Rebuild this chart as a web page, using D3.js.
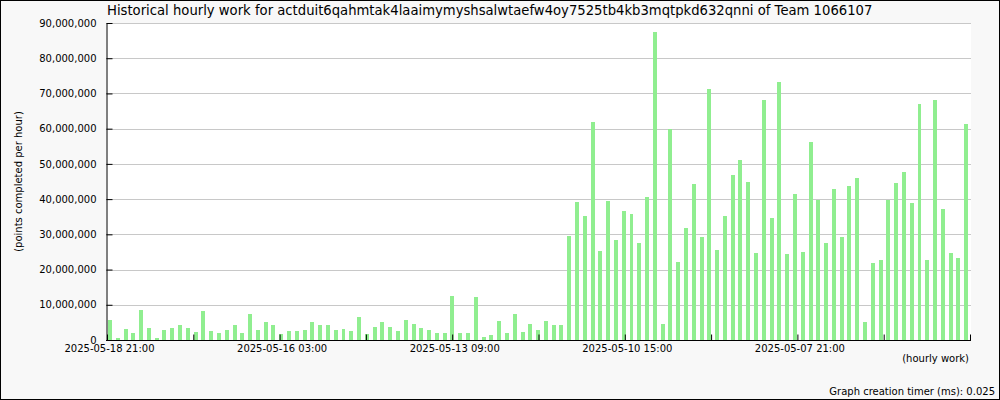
<!DOCTYPE html>
<html>
<head>
<meta charset="utf-8">
<script src="https://cdn.jsdelivr.net/npm/d3@7"></script>
<style>
  html, body { margin: 0; padding: 0; background: #f8f8f8; }
  svg { display: block; }
  text { font-family: "DejaVu Sans", sans-serif; fill: #000; }
</style>
</head>
<body>
<svg id="chart" width="1000" height="400"></svg>
<script>
// ---- data ----
const titleText = "Historical hourly work for actduit6qahmtak4laaimymyshsalwtaefw4oy7525tb4kb3mqtpkd632qnni of Team 1066107";
const yAxisTitle = "(points completed per hour)";
const xAxisTitle = "(hourly work)";
const footerText = "Graph creation timer (ms): 0.025";

// millions of points per bar, left (newest) to right (oldest)
const valuesMillions = [
  5.74, 0.57, 3.16, 2.0, 8.6, 3.44, 0.57, 2.87, 3.44, 4.3,
  3.44, 2.3, 8.3, 2.58, 2.0, 2.87, 4.3, 2.0, 7.46, 2.87,
  5.17, 4.3, 1.72, 2.58, 2.58, 2.87, 5.17, 4.3, 4.3, 2.87,
  3.16, 2.58, 6.6, 1.72, 3.73, 5.17, 3.73, 2.58, 5.74, 4.6,
  3.44, 2.87, 2.0, 2.0, 12.6, 2.0, 2.0, 12.3, 0.86, 1.44,
  5.45, 2.0, 7.46, 2.3, 4.6, 2.87, 5.45, 4.3, 4.3, 29.4,
  39.2, 35.2, 61.9, 25.3, 39.5, 28.4, 36.6, 35.8, 27.5, 40.6,
  87.4, 4.5, 59.8, 22.1, 31.8, 44.3, 29.2, 71.3, 25.6, 35.2,
  46.8, 51.1, 44.9, 24.7, 68.1, 34.6, 73.2, 24.4, 41.4, 25.0,
  56.2, 39.8, 27.5, 42.9, 29.2, 43.7, 46.0, 5.1, 21.9, 22.7,
  39.8, 44.6, 47.7, 38.9, 67.0, 22.7, 68.1, 37.2, 24.7, 23.3,
  61.3
];
const yTickValues = [0, 10e6, 20e6, 30e6, 40e6, 50e6, 60e6, 70e6, 80e6, 90e6];
const xTickLabels = ["2025-05-18 21:00", "2025-05-16 03:00", "2025-05-13 09:00", "2025-05-10 15:00", "2025-05-07 21:00"];
const axisStartLabel = "2025-05-18 21:00";
const axisSpanHours = 330;
const tickEveryHours = 33;

// ---- layout ----
const W = 1000, H = 400;
const plot = { left: 106, right: 971, top: 23, bottom: 340 };

const svg = d3.select("#chart");
svg.append("rect").attr("x", 0).attr("y", 0).attr("width", W).attr("height", H).attr("fill", "#f8f8f8");
svg.append("rect").attr("x", plot.left).attr("y", plot.top)
  .attr("width", plot.right - plot.left).attr("height", plot.bottom - plot.top).attr("fill", "#ffffff");

const values = valuesMillions.map(v => v * 1e6);

const y = d3.scaleLinear().domain([0, 90e6]).range([plot.bottom, plot.top]);
const xi = d3.scaleLinear().domain([0, values.length]).range([plot.left + 1, plot.right]);

const parse = d3.utcParse("%Y-%m-%d %H:%M");
const t0 = parse(axisStartLabel);
const t1 = new Date(t0.getTime() - axisSpanHours * 3600e3);
const xt = d3.scaleUtc().domain([t0, t1]).range([plot.left + 1, plot.right - 1]);

// gridlines
svg.append("g").selectAll("line").data(yTickValues.filter(v => v > 0)).join("line")
  .attr("x1", plot.left).attr("x2", plot.right)
  .attr("y1", d => Math.round(y(d)) + 0.5).attr("y2", d => Math.round(y(d)) + 0.5)
  .attr("stroke", "#c8c8c8").attr("stroke-width", 1);

// bars
const step = xi(1) - xi(0);
svg.append("g").selectAll("rect").data(values).join("rect")
  .attr("x", (d, i) => xi(i) + 1)
  .attr("width", step * 0.51)
  .attr("y", d => y(d))
  .attr("height", d => y(0) - y(d))
  .attr("fill", "#90ee90")
  .attr("shape-rendering", "crispEdges");

// y axis
const yAxis = d3.axisLeft(y).tickValues(yTickValues).tickSizeInner(-6).tickSizeOuter(0)
  .tickFormat(d3.format(",")).tickPadding(10);
const gy = svg.append("g").attr("transform", `translate(${plot.left + 0.5},0)`).call(yAxis);
gy.select(".domain").attr("stroke", "#000");
gy.selectAll(".tick line").attr("stroke", "#000");
gy.selectAll(".tick text").attr("font-size", 10).attr("font-family", "DejaVu Sans");

// x axis
const xTicks = d3.range(0, axisSpanHours + 1, tickEveryHours).map(h => new Date(t0.getTime() - h * 3600e3));
const labelSet = new Set(xTickLabels);
const fmt = d3.utcFormat("%Y-%m-%d %H:%M");
const xAxis = d3.axisBottom(xt).tickValues(xTicks).tickSizeInner(-6).tickSizeOuter(0)
  .tickFormat(d => labelSet.has(fmt(d)) ? fmt(d) : "").tickPadding(4);
const gx = svg.append("g").attr("transform", `translate(0,${plot.bottom + 0.5})`).call(xAxis);
gx.select(".domain").attr("stroke", "#000").attr("d", `M${plot.left},0H${plot.right}`);
gx.selectAll(".tick line").attr("stroke", "#000");
gx.selectAll(".tick text").attr("font-size", 10).attr("font-family", "DejaVu Sans").attr("dx", 2);

// titles
svg.append("text").attr("x", 107).attr("y", 15).attr("font-size", 13.2).text(titleText);
svg.append("text").attr("transform", `translate(22,${(plot.top + plot.bottom) / 2}) rotate(-90)`)
  .attr("text-anchor", "middle").attr("font-size", 10).text(yAxisTitle);
svg.append("text").attr("x", 969).attr("y", 362).attr("text-anchor", "end").attr("font-size", 10).text(xAxisTitle);
svg.append("text").attr("x", 995).attr("y", 395).attr("text-anchor", "end").attr("font-size", 10).text(footerText);

// border
svg.append("rect").attr("x", 0.5).attr("y", 0.5).attr("width", W - 1).attr("height", H - 1)
  .attr("fill", "none").attr("stroke", "#000");
</script>
</body>
</html>
